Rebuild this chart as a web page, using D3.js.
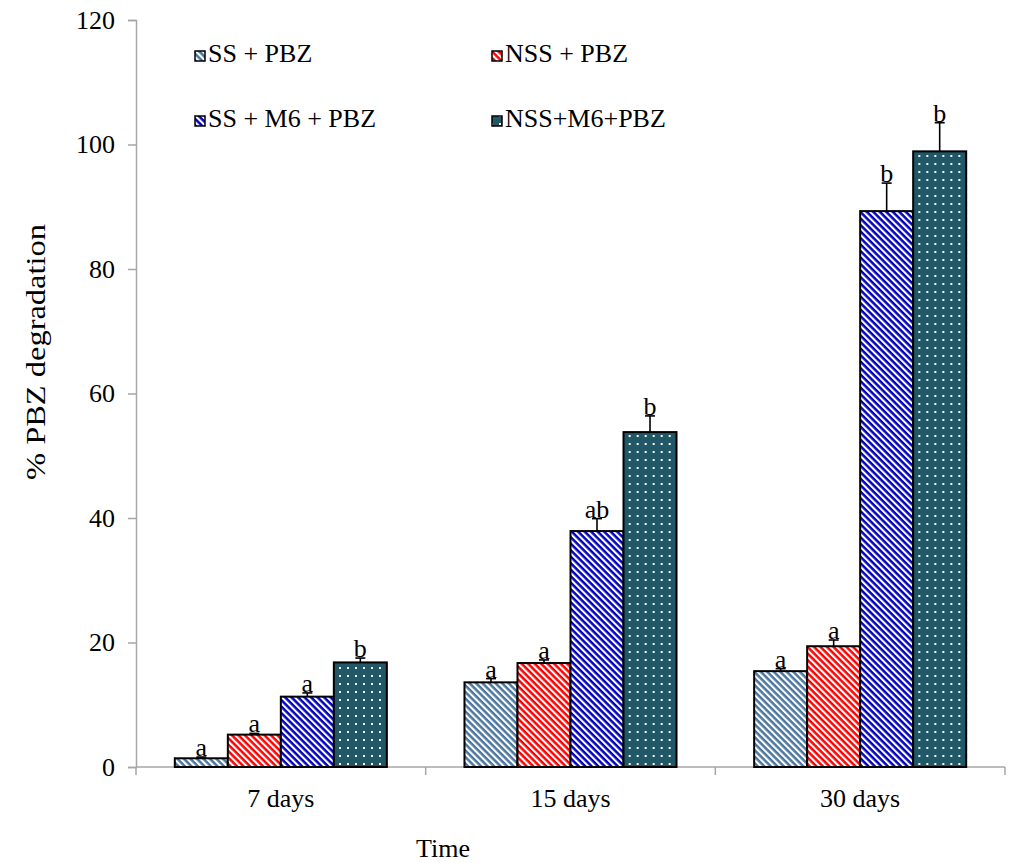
<!DOCTYPE html>
<html>
<head>
<meta charset="utf-8">
<script src="https://cdn.jsdelivr.net/npm/d3@7"></script>
<style>
  html, body { margin: 0; padding: 0; background: #fff; }
  svg { display: block; }
  svg text { font-family: "Liberation Serif", "Times New Roman", "DejaVu Serif", serif; }
</style>
</head>
<body>
<svg id="chart" width="1012" height="863"></svg>
<script>
// ---- data ----
const categories = ["7 days", "15 days", "30 days"];
const seriesNames = ["SS + PBZ", "NSS + PBZ", "SS + M6 + PBZ", "NSS+M6+PBZ"];
const ssPbz      = [1.4, 13.6, 15.4];
const nssPbz     = [5.2, 16.7, 19.4];
const ssM6Pbz    = [11.3, 37.9, 89.3];
const nssM6Pbz   = [16.8, 53.8, 98.9];
const ssPbzErr    = [0.2, 0.6, 0.4];
const nssPbzErr   = [0.2, 0.5, 1.0];
const ssM6PbzErr  = [0.6, 2.0, 4.5];
const nssM6PbzErr = [0.7, 2.6, 4.6];
const ssPbzLbl    = ["a", "a", "a"];
const nssPbzLbl   = ["a", "a", "a"];
const ssM6PbzLbl  = ["a", "ab", "b"];
const nssM6PbzLbl = ["b", "b", "b"];
const yTicks = [0, 20, 40, 60, 80, 100, 120];

const values = [ssPbz, nssPbz, ssM6Pbz, nssM6Pbz];
const errors = [ssPbzErr, nssPbzErr, ssM6PbzErr, nssM6PbzErr];
const letters = [ssPbzLbl, nssPbzLbl, ssM6PbzLbl, nssM6PbzLbl];

const FONT = "'Liberation Serif', 'Times New Roman', serif";
const svg = d3.select("#chart");
const defs = svg.append("defs");

// stripe patterns
function stripe(id, color) {
  const p = defs.append("pattern").attr("id", id)
    .attr("patternUnits", "userSpaceOnUse")
    .attr("width", 4.6).attr("height", 4.6)
    .attr("patternTransform", "rotate(45)");
  p.append("rect").attr("width", 4.6).attr("height", 4.6).attr("fill", "#fff");
  p.append("rect").attr("width", 4.6).attr("height", 2.5).attr("fill", color);
}
stripe("p0", "#4a76a0");
stripe("p1", "#ff0000");
stripe("p2", "#0000c0");
const dp = defs.append("pattern").attr("id", "p3")
  .attr("patternUnits", "userSpaceOnUse")
  .attr("width", 8).attr("height", 8);
dp.append("rect").attr("width", 8).attr("height", 8).attr("fill", "#215867");
dp.append("rect").attr("x", 3).attr("y", 3).attr("width", 2).attr("height", 2).attr("fill", "#fff");
const fills = ["url(#p0)", "url(#p1)", "url(#p2)", "url(#p3)"];

// scales
const x = d3.scaleBand().domain(categories).range([136, 1005]).padding(0);
const xi = d3.scaleBand().domain(seriesNames)
  .range([x.bandwidth() * 0.134, x.bandwidth() * 0.866]).padding(0);
const y = d3.scaleLinear().domain([0, 120]).range([767, 20]);

const axisColor = "#a6a6a6";

// y axis
const yAxis = svg.append("g").attr("transform", "translate(136,0)")
  .call(d3.axisLeft(y).tickValues(yTicks).tickSize(8).tickPadding(13));
yAxis.attr("font-family", FONT);
yAxis.select(".domain").attr("stroke", axisColor).attr("stroke-width", 1.5);
yAxis.selectAll(".tick line").attr("stroke", axisColor).attr("stroke-width", 1.5);
yAxis.selectAll(".tick text").attr("font-size", 26).attr("fill", "#000")
  .attr("font-family", FONT);

// x axis
const xAxisG = svg.append("g").attr("transform", "translate(0,767)");
xAxisG.append("line").attr("x1", 136).attr("x2", 1005)
  .attr("stroke", axisColor).attr("stroke-width", 1.5);
const bounds = categories.map(c => x(c)).concat([x(categories[categories.length - 1]) + x.bandwidth()]);
xAxisG.selectAll(".xt").data(bounds).join("line")
  .attr("x1", d => d).attr("x2", d => d).attr("y1", 0).attr("y2", 8)
  .attr("stroke", axisColor).attr("stroke-width", 1.5);
xAxisG.selectAll(".xl").data(categories).join("text")
  .attr("x", d => x(d) + x.bandwidth() / 2).attr("y", 40)
  .attr("text-anchor", "middle").attr("font-size", 26).attr("font-family", FONT).text(d => d);

// bars
const groups = svg.append("g").selectAll("g").data(categories).join("g")
  .attr("transform", c => `translate(${x(c)},0)`);

seriesNames.forEach((s, si) => {
  groups.append("line")
    .attr("x1", xi(s) + xi.bandwidth() / 2)
    .attr("x2", xi(s) + xi.bandwidth() / 2)
    .attr("y1", (c, ci) => y(values[si][ci]))
    .attr("y2", (c, ci) => y(values[si][ci] + errors[si][ci]))
    .attr("stroke", "#000").attr("stroke-width", 1.6);
  groups.append("line")
    .attr("x1", xi(s) + xi.bandwidth() / 2 - 5)
    .attr("x2", xi(s) + xi.bandwidth() / 2 + 5)
    .attr("y1", (c, ci) => y(values[si][ci] + errors[si][ci]))
    .attr("y2", (c, ci) => y(values[si][ci] + errors[si][ci]))
    .attr("stroke", "#000").attr("stroke-width", 1.6);
  groups.append("rect")
    .attr("x", xi(s)).attr("width", xi.bandwidth())
    .attr("y", (c, ci) => y(values[si][ci]))
    .attr("height", (c, ci) => y(0) - y(values[si][ci]))
    .attr("fill", fills[si]).attr("stroke", "#000").attr("stroke-width", 2);
  groups.append("text")
    .attr("x", xi(s) + xi.bandwidth() / 2)
    .attr("y", (c, ci) => y(values[si][ci] + errors[si][ci]) - 1)
    .attr("text-anchor", "middle").attr("font-size", 26).attr("font-family", FONT)
    .text((c, ci) => letters[si][ci]);
});

// legend
const legendPos = [[195, 62], [492, 62], [195, 127], [492, 127]];
seriesNames.forEach((s, i) => {
  const [lx, ly] = legendPos[i];
  svg.append("rect").attr("x", lx).attr("y", ly - 11).attr("width", 10).attr("height", 10)
    .attr("fill", fills[i]).attr("stroke", "#000").attr("stroke-width", 1.5);
  svg.append("text").attr("x", lx + 13).attr("y", ly).attr("font-size", 26)
    .attr("font-family", FONT).text(s);
});

// axis titles
svg.append("text").attr("transform", "translate(45,352) rotate(-90)")
  .attr("text-anchor", "middle").attr("font-size", 28).attr("font-family", FONT)
  .attr("textLength", 256).attr("lengthAdjust", "spacingAndGlyphs")
  .text("% PBZ degradation");
svg.append("text").attr("x", 443).attr("y", 857)
  .attr("text-anchor", "middle").attr("font-size", 26).attr("font-family", FONT).text("Time");
</script>
</body>
</html>
